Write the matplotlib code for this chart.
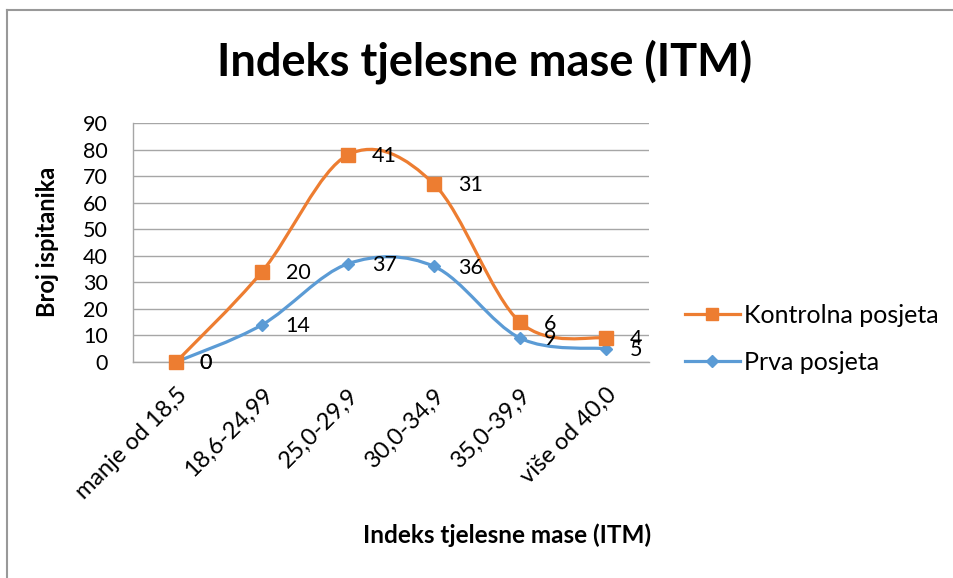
import numpy as np
import matplotlib
matplotlib.use("Agg")
import matplotlib.pyplot as plt
from matplotlib.path import Path
from matplotlib.patches import PathPatch
from matplotlib.lines import Line2D

plt.rcParams['font.family'] = ['Lato', 'DejaVu Sans']

categories = ["manje od 18,5", "18,6-24,99", "25,0-29,9", "30,0-34,9", "35,0-39,9", "više od 40,0"]
prva_posjeta = [0, 14, 37, 36, 9, 5]
kontrolna_posjeta = [0, 20, 41, 31, 6, 4]
y_ticks = [0, 10, 20, 30, 40, 50, 60, 70, 80, 90]

title = "Indeks tjelesne mase (ITM)"
xlabel = "Indeks tjelesne mase (ITM)"
ylabel = "Broj ispitanika"

ORANGE = "#ED7D31"
BLUE = "#5B9BD5"
GRID = "#A6A6A6"

W, H = 954, 578
fig = plt.figure(figsize=(W / 100, H / 100), dpi=100)
ax = fig.add_axes([133 / W, 1 - 362 / H, (649 - 133) / W, (362 - 123) / H])

x = np.arange(len(categories))
y_blue = np.array(prva_posjeta, dtype=float)
y_orange = y_blue + np.array(kontrolna_posjeta, dtype=float)  # stacked


def smooth_path(xs, ys):
    pts = np.column_stack([xs, ys])
    n = len(pts)
    verts = [pts[0]]
    codes = [Path.MOVETO]
    for i in range(n - 1):
        p0 = pts[max(i - 1, 0)]
        p1 = pts[i]
        p2 = pts[i + 1]
        p3 = pts[min(i + 2, n - 1)]
        c1 = p1 + (p2 - p0) / 6.0
        c2 = p2 - (p3 - p1) / 6.0
        verts += [c1, c2, p2]
        codes += [Path.CURVE4] * 3
    return Path(verts, codes)


for ys, col, mk, ms, zo in [(y_orange, ORANGE, 's', 10, 4), (y_blue, BLUE, 'D', 6, 3)]:
    patch = PathPatch(smooth_path(x, ys), facecolor='none', edgecolor=col, lw=2.3,
                      transform=ax.transData, zorder=zo, capstyle='round', joinstyle='round')
    ax.add_patch(patch)
    ax.plot(x, ys, linestyle='none', marker=mk, markersize=ms, color=col, zorder=zo + 0.5,
            clip_on=False)

for xi, yv, lab in zip(x, y_orange, kontrolna_posjeta):
    ax.annotate(str(lab), (xi, yv), xytext=(17, -1), textcoords='offset points',
                ha='left', va='center', fontsize=15.5, color='black', zorder=10)
for xi, yv, lab in zip(x, y_blue, prva_posjeta):
    ax.annotate(str(lab), (xi, yv), xytext=(17, -1), textcoords='offset points',
                ha='left', va='center', fontsize=15.5, color='black', zorder=10)

ax.set_xlim(-0.5, len(categories) - 0.5)
ax.set_ylim(0, 90)
ax.set_yticks(y_ticks)
ax.set_yticklabels([str(t) for t in y_ticks], fontsize=15.5)
ax.set_xticks(x)
ax.set_xticklabels(categories, rotation=45, ha='right', rotation_mode='anchor', fontsize=17)
ax.tick_params(axis='both', length=0)
ax.tick_params(axis='x', pad=16)
ax.tick_params(axis='y', pad=18)
ax.grid(axis='y', color=GRID, lw=1.0)
ax.set_axisbelow(True)
for s in ['top', 'right']:
    ax.spines[s].set_visible(False)
for s in ['left', 'bottom']:
    ax.spines[s].set_color(GRID)
    ax.spines[s].set_linewidth(1.0)

fig.text(48 / W, 1 - 242 / H, ylabel, rotation=90, ha='center', va='center',
         fontsize=17, fontweight='bold')
fig.text(485 / W, 1 - 62 / H, title, ha='center', va='center', fontsize=32.5, fontweight='bold')
fig.text(507 / W, 1 - 535 / H, xlabel, ha='center', va='center', fontsize=17.5, fontweight='bold')

handles = [Line2D([], [], color=ORANGE, lw=2.3, marker='s', markersize=9),
           Line2D([], [], color=BLUE, lw=2.3, marker='D', markersize=6)]
fig.legend(handles, ["Kontrolna posjeta", "Prva posjeta"], loc='center left',
           bbox_to_anchor=(685 / W, 1 - 339 / H), frameon=False, fontsize=18,
           handlelength=2.2, handletextpad=0.15, labelspacing=0.95, borderpad=0, borderaxespad=0)

# chart frame (top and left edges)
fig.add_artist(Line2D([7 / W, 7 / W], [0, 1 - 10 / H], transform=fig.transFigure, color='#999999', lw=1.5))
fig.add_artist(Line2D([7 / W, 1], [1 - 10 / H, 1 - 10 / H], transform=fig.transFigure, color='#999999', lw=1.5))

fig.savefig("out.png", dpi=100)
